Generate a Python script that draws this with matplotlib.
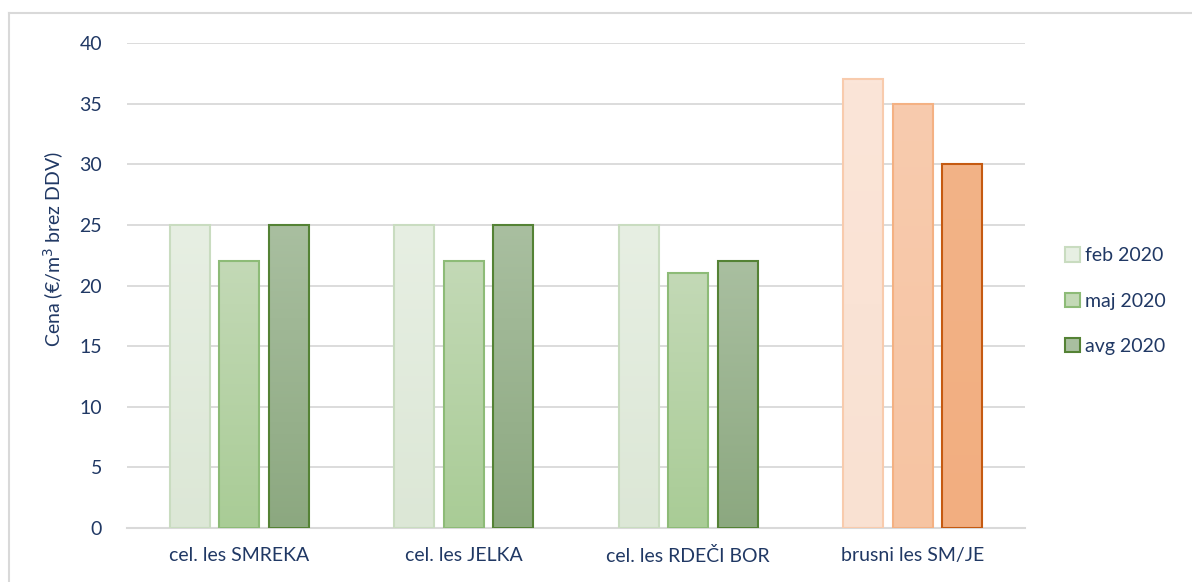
import numpy as np
import matplotlib.pyplot as plt
from matplotlib.patches import Patch
from matplotlib.colors import LinearSegmentedColormap

kategorije = ["cel. les SMREKA", "cel. les JELKA", "cel. les RDEČI BOR", "brusni les SM/JE"]
serije = ["feb 2020", "maj 2020", "avg 2020"]
feb = [25, 25, 25, 37]
maj = [22, 22, 21, 35]
avg = [25, 25, 22, 30]
yticks = [0, 5, 10, 15, 20, 25, 30, 35, 40]

# barve: (zgoraj, spodaj, rob) za zelene in oranzne stolpce
zelene = [("#e7efe3", "#dce7d6", "#c9dcc0"),
          ("#c3d9b6", "#a9cc96", "#8dbb77"),
          ("#a9bfa0", "#8ca880", "#548235")]
oranzne = [("#fbe5d8", "#f9e1d2", "#f8cbad"),
           ("#f8cbae", "#f6c4a2", "#f4b183"),
           ("#f3b387", "#f2ae80", "#c55a11")]

txt = "#203864"
plt.rcParams['font.family'] = ['Lato', 'DejaVu Sans']

fig = plt.figure(figsize=(11.92, 5.82), dpi=100)
ax = fig.add_axes([0.1065, 0.0928, 0.7535, 0.8333])

x = np.arange(len(kategorije))
w = 0.178
off = 0.22
vrednosti = [feb, maj, avg]

for i, vals in enumerate(vrednosti):
    for j, v in enumerate(vals):
        top, bot, edge = (oranzne if j == 3 else zelene)[i]
        bars = ax.bar(x[j] + (i - 1) * off, v, width=w, color="none",
                      edgecolor=edge, linewidth=1.5, zorder=3)
        b = bars[0]
        cmap = LinearSegmentedColormap.from_list("g", [bot, top])
        grad = np.linspace(0, 1, 100).reshape(-1, 1)
        im = ax.imshow(grad, cmap=cmap, aspect="auto", origin="lower",
                       extent=[b.get_x(), b.get_x() + w, 0, v], zorder=2)
        im.set_clip_path(b)

ax.set_xlim(-0.5, 3.5)
ax.set_ylim(0, 40)
ax.set_yticks(yticks)
ax.set_xticks(x)
ax.set_xticklabels(kategorije)
ax.tick_params(length=0, labelsize=14, colors=txt, pad=14)
ax.tick_params(axis="y", pad=18)
ax.grid(axis="y", color="#d9d9d9", linewidth=1.3, zorder=0)
for s in ["top", "right", "left"]:
    ax.spines[s].set_visible(False)
ax.spines["bottom"].set_color("#d9d9d9")
ax.spines["bottom"].set_linewidth(1.5)
ax.set_ylabel("Cena (€/m$^3$ brez DDV)", fontsize=14, color=txt)
ax.yaxis.set_label_coords(-0.068, 0.575)

handles = [Patch(facecolor=zelene[i][0], edgecolor=zelene[i][2], linewidth=1.5)
           for i in range(3)]
leg = ax.legend(handles, serije, loc="center left", bbox_to_anchor=(1.025, 0.468),
                frameon=False, fontsize=14, labelspacing=1.45,
                handlelength=0.75, handleheight=0.75, handletextpad=0.3)
for t in leg.get_texts():
    t.set_color(txt)

# okvir slike
fig.add_artist(plt.Line2D([9 / 1192, 9 / 1192], [0, 1 - 13 / 582],
                          color="#d9d9d9", linewidth=1.5))
fig.add_artist(plt.Line2D([9 / 1192, 1], [1 - 13 / 582, 1 - 13 / 582],
                          color="#d9d9d9", linewidth=1.5))

fig.savefig("out.png", dpi=100)
